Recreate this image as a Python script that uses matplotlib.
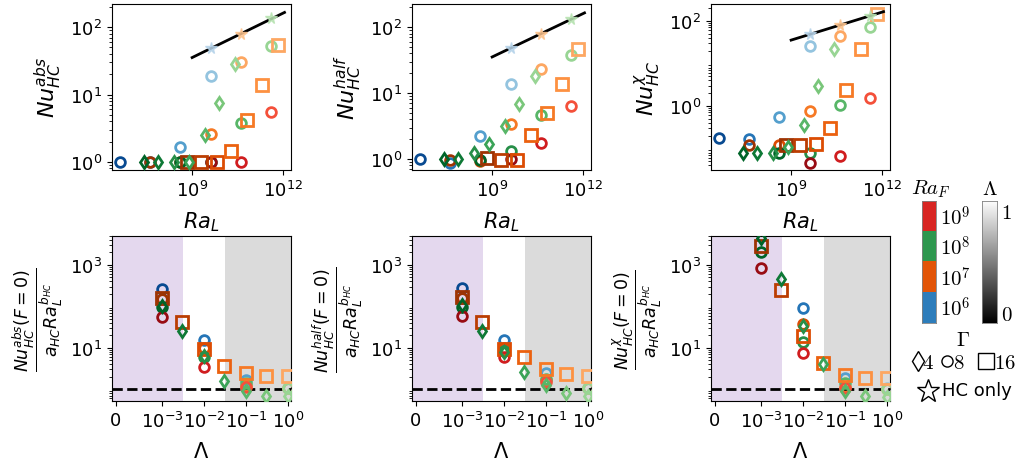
import numpy as np
import matplotlib
matplotlib.use('Agg')
import matplotlib.pyplot as plt
from matplotlib.colors import ListedColormap

nan = np.nan

# ---------------- data ----------------
# Lambda values
LAM_C = [1e-3, 1e-2, 1e-1, 1.0]                       # Gamma = 8 (circles)
LAM_S = [1e-3, 3e-3, 1e-2, 3e-2, 1e-1, 3e-1, 1.0]     # Gamma = 16 (squares, Ra_F = 1e7)
LAM_D = [1e-3, 3e-3, 1e-2, 3e-2, 1e-1, 3e-1, 1.0]     # Gamma = 4 (diamonds, Ra_F = 1e8)

# Ra_L of each point
RAL_C_F6 = [4.1e6, 4.1e7, 4.1e8, 4.1e9]
RAL_C_F7 = [4.1e7, 4.1e8, 4.1e9, 4.1e10]
RAL_C_F8 = [4.1e8, 4.1e9, 4.1e10, 4.1e11]
RAL_C_F9 = [4.1e9, 4.1e10, 4.1e11, 4.1e12]
RAL_S = [6.55e8, 1.97e9, 6.55e9, 1.97e10, 6.55e10, 1.97e11, 6.55e11]
RAL_D = [2.56e7, 7.7e7, 2.56e8, 7.7e8, 2.56e9, 7.7e9, 2.56e10]
RAL_STAR = [4.1e9, 4.1e10, 4.1e11]

# Nu_HC^abs
ABS_C_F6 = [1.0, 1.0, 1.65, 18.6]
ABS_C_F7 = [1.0, 1.0, 2.63, 30.6]
ABS_C_F8 = [1.0, 1.0, 3.78, 51.7]
ABS_C_F9 = [1.0, 1.0, 5.56, nan]
ABS_S = [1.0, 1.0, 1.0, 1.47, 4.24, 13.8, 55.0]
ABS_D = [1.0, 1.0, 1.0, 1.0, 2.54, 7.48, 28.3]
ABS_STAR = [49.0, 80.0, 135.0]

# Nu_HC^half
HALF_C_F6 = [1.0, 0.86, 2.25, 13.9]
HALF_C_F7 = [0.98, 0.92, 3.38, 23.4]
HALF_C_F8 = [0.95, 1.33, 4.67, 38.5]
HALF_C_F9 = [1.0, 1.74, 6.3, nan]
HALF_S = [1.03, 0.98, 0.98, 2.33, 5.07, 13.9, 47.5]
HALF_D = [1.0, 1.0, 1.22, 1.69, 3.18, 6.94, 18.1]
HALF_STAR = [48.0, 80.0, 134.0]

# Nu_HC^chi
CHI_C_F6 = [0.177, 0.17, 0.55, 25.3]
CHI_C_F7 = [0.119, 0.123, 0.75, 43.4]
CHI_C_F8 = [0.076, 0.080, 1.03, 72.0]
CHI_C_F9 = [0.046, 0.066, 1.57, nan]
CHI_S = [0.123, 0.119, 0.125, 0.30, 2.33, 22.2, 148.0]
CHI_D = [0.080, 0.080, 0.080, 0.108, 0.36, 2.9, 21.5]
CHI_STAR = [50.0, 80.0, 128.0]

# Normalised Nu(F=0)/(a Ra^b) vs Lambda
NABS_C_F6 = [268, 15.8, 1.66, 1.1]
NABS_C_F7 = [150, 10.0, 1.2, 1.05]
NABS_C_F8 = [97, 5.9, 1.45, 1.05]
NABS_C_F9 = [56, 3.35, 1.15, nan]
NABS_S = [160, 41.6, 9.6, 3.7, 2.5, 2.1, 2.05]
NABS_D = [105, 25, 6.5, 1.6, 0.9, 0.70, 0.68]

NHALF_C_F6 = [284, 15.4, 2.5, 1.1]
NHALF_C_F7 = [160, 10.0, 1.7, 1.05]
NHALF_C_F8 = [97, 8.5, 1.8, 1.05]
NHALF_C_F9 = [59, 5.9, 1.5, nan]
NHALF_S = [170, 41.6, 9.6, 5.9, 3.0, 2.35, 2.05]
NHALF_D = [110, 25, 8.0, 2.64, 1.25, 0.79, 0.70]

NCHI_C_F6 = [nan, 89, 1.9, 1.05]
NCHI_C_F7 = [nan, 37, 1.15, 1.0]
NCHI_C_F8 = [2060, 13.8, 1.4, 1.0]
NCHI_C_F9 = [832, 7.4, 1.07, nan]
NCHI_S = [2900, 250, 19.5, 4.2, 2.2, 1.9, 1.85]
NCHI_D = [4500, 468, 33, 4.0, 0.9, 0.68, 0.65]

# fit line a_HC * Ra_L^b_HC
A_HC = 0.37
B_HC = 0.22
RAL_FIT = [1e9, 1.1e12]

RAF_LABELS = [r'$10^6$', r'$10^7$', r'$10^8$', r'$10^9$']
GAMMA_LABELS = [r'$4$', r'$8$', r'$16$']

# ---------------- style ----------------
CMAPS = [plt.cm.Blues, plt.cm.Oranges, plt.cm.Greens, plt.cm.Reds]
W, H = 1031, 464
fig = plt.figure(figsize=(W / 100, H / 100), dpi=100)

TICK_FS = 13
XLAB_FS = 15
YLAB_FS = 16


def shade(lam):
    return 0.9 - 0.5 * (np.log10(lam) + 3) / 3


def ax_rect(x0, x1, y0, y1):
    return [x0 / W, 1 - y1 / H, (x1 - x0) / W, (y1 - y0) / H]


def scatter_set(ax, xs, ys, lams, cmap, marker, ms, z):
    for x, y, l in zip(xs, ys, lams):
        if np.isnan(y):
            continue
        c = cmap(shade(l))
        ax.plot([x], [y], ls='none', marker=marker, ms=ms, mfc='none',
                mec=c, mew=2.0, zorder=z)


MS_C, MS_S, MS_D = 7, 8.5, 6.5

top_x = [(112, 291), (412, 591), (711, 890)]
top_sets = [
    (ABS_C_F6, ABS_C_F7, ABS_C_F8, ABS_C_F9, ABS_S, ABS_D, ABS_STAR, r'$Nu_{HC}^{abs}$', (0.76, 220)),
    (HALF_C_F6, HALF_C_F7, HALF_C_F8, HALF_C_F9, HALF_S, HALF_D, HALF_STAR, r'$Nu_{HC}^{half}$', (0.68, 225)),
    (CHI_C_F6, CHI_C_F7, CHI_C_F8, CHI_C_F9, CHI_S, CHI_D, CHI_STAR, r'$Nu_{HC}^{\chi}$', (0.031, 250)),
]
RAL_CS = [RAL_C_F6, RAL_C_F7, RAL_C_F8, RAL_C_F9]

for (x0, x1), (c6, c7, c8, c9, sq, dm, st, ylab, ylim) in zip(top_x, top_sets):
    ax = fig.add_axes(ax_rect(x0, x1, 5, 171))
    ax.set_xscale('log')
    ax.set_yscale('log')
    for ral, nu, cmap in zip(RAL_CS, [c6, c7, c8, c9], CMAPS):
        scatter_set(ax, ral, nu, LAM_C, cmap, 'o', MS_C, 3)
    scatter_set(ax, RAL_S, sq, LAM_S, plt.cm.Oranges, 's', MS_S, 4)
    scatter_set(ax, RAL_D, dm, LAM_D, plt.cm.Greens, 'd', MS_D, 5)
    fit = A_HC * np.array(RAL_FIT) ** B_HC
    ax.plot(RAL_FIT, fit, color='k', lw=2, zorder=6)
    for x, y, cmap in zip(RAL_STAR, st, CMAPS[:3]):
        c = cmap(0.3)
        ax.plot([x], [y], ls='none', marker='*', ms=8.5, mfc=c, mec=c, mew=1,
                alpha=0.85, zorder=7)
    ax.set_xlim(2.3e6, 1.8e12)
    ax.set_ylim(*ylim)
    ax.set_xticks([1e9, 1e12])
    ax.xaxis.set_minor_locator(matplotlib.ticker.NullLocator())
    if ylim[0] < 0.1:
        ax.set_yticks([1, 100])
    else:
        ax.set_yticks([1, 10, 100])
    ax.tick_params(labelsize=TICK_FS)
    ax.set_xlabel(r'$Ra_L$', fontsize=XLAB_FS, labelpad=7)
    ax.set_ylabel(ylab, fontsize=YLAB_FS)

bot_sets = [
    (NABS_C_F6, NABS_C_F7, NABS_C_F8, NABS_C_F9, NABS_S, NABS_D, 'abs'),
    (NHALF_C_F6, NHALF_C_F7, NHALF_C_F8, NHALF_C_F9, NHALF_S, NHALF_D, 'half'),
    (NCHI_C_F6, NCHI_C_F7, NCHI_C_F8, NCHI_C_F9, NCHI_S, NCHI_D, r'\chi'),
]
for (x0, x1), (c6, c7, c8, c9, sq, dm, sup) in zip(top_x, bot_sets):
    ax = fig.add_axes(ax_rect(x0, x1, 237, 402))
    ax.set_xscale('symlog', linthresh=1e-3)
    ax.set_yscale('log')
    xl = (-8.5e-5, 1.18)
    ax.axvspan(xl[0], 10 ** -2.5, color='tab:purple', alpha=0.25, lw=0, zorder=0)
    ax.axvspan(10 ** -1.5, xl[1], color='gray', alpha=0.28, lw=0, zorder=0)
    ax.axhline(1.0, color='k', ls='--', lw=2, zorder=1)
    for nu, cmap in zip([c6, c7, c8, c9], CMAPS):
        scatter_set(ax, LAM_C, nu, LAM_C, cmap, 'o', MS_C, 3)
    scatter_set(ax, LAM_S, sq, LAM_S, plt.cm.Oranges, 's', MS_S, 4)
    scatter_set(ax, LAM_D, dm, LAM_D, plt.cm.Greens, 'd', MS_D, 5)
    ax.set_xlim(*xl)
    ax.set_ylim(0.52, 5000)
    ax.set_xticks([0, 1e-3, 1e-2, 1e-1, 1])
    ax.set_xticklabels(['0', r'$10^{-3}$', r'$10^{-2}$', r'$10^{-1}$', r'$10^{0}$'])
    ax.xaxis.set_minor_locator(matplotlib.ticker.NullLocator())
    ax.set_yticks([10, 1000])
    ax.tick_params(labelsize=TICK_FS)
    ax.set_xlabel(r'$\Lambda$', fontsize=XLAB_FS, labelpad=7)
    ax.set_ylabel(r'$\dfrac{Nu_{HC}^{%s}(F=0)}{a_{HC}Ra_L^{b_{HC}}}$' % sup, fontsize=12.5)

# ---------------- legend / colorbars ----------------
lax = fig.add_axes([0, 0, 1, 1])
lax.set_xlim(0, W)
lax.set_ylim(H, 0)
lax.axis('off')

LEG_FS = 15
raf_colors = [c(0.7) for c in CMAPS]
cax1 = fig.add_axes(ax_rect(922, 936, 202, 324))
cax1.imshow(np.arange(4)[::-1].reshape(4, 1), cmap=ListedColormap(raf_colors),
            aspect='auto', extent=(0, 1, 0, 4))
cax1.set_xticks([])
cax1.set_yticks([])
for s in cax1.spines.values():
    s.set_color('0.5')
    s.set_linewidth(0.6)
for i, lab in enumerate(RAF_LABELS):
    yc = 324 - (i + 0.5) * (122 / 4)
    lax.text(940, yc, lab, fontsize=LEG_FS, ha='left', va='center', math_fontfamily='cm')
lax.text(931, 189, r'$Ra_F$', fontsize=LEG_FS, ha='center', va='center', math_fontfamily='cm')

cax2 = fig.add_axes(ax_rect(982, 997, 202, 324))
cax2.imshow(np.linspace(1, 0, 256).reshape(256, 1), cmap='gray', aspect='auto',
            extent=(0, 1, 0, 1), vmin=0, vmax=1)
cax2.set_xticks([])
cax2.set_yticks([])
for s in cax2.spines.values():
    s.set_color('0.5')
    s.set_linewidth(0.6)
lax.text(990, 189, r'$\Lambda$', fontsize=LEG_FS, ha='center', va='center', math_fontfamily='cm')
lax.text(1001, 203, r'$1$', fontsize=LEG_FS, ha='left', va='top', math_fontfamily='cm')
lax.text(1001, 325, r'$0$', fontsize=LEG_FS, ha='left', va='bottom', math_fontfamily='cm')

lax.text(963, 340, r'$\Gamma$', fontsize=LEG_FS, ha='center', va='center', math_fontfamily='cm')
row_y = 362
for mx, mk, ms, tx, lab in zip([917.5, 947, 985.5], ['d', 'o', 's'], [10, 8, 11],
                               [922, 953, 994], GAMMA_LABELS):
    lax.plot([mx], [row_y], ls='none', marker=mk, ms=ms, mfc='none', mec='k', mew=1.0)
    lax.text(tx, row_y + 1, lab, fontsize=LEG_FS, ha='left', va='center', math_fontfamily='cm')
lax.plot([928], [392], ls='none', marker='*', ms=17, mfc='none', mec='k', mew=1.0)
lax.text(942, 391, 'HC only', fontsize=13, ha='left', va='center')

fig.savefig('out.png', dpi=100)
